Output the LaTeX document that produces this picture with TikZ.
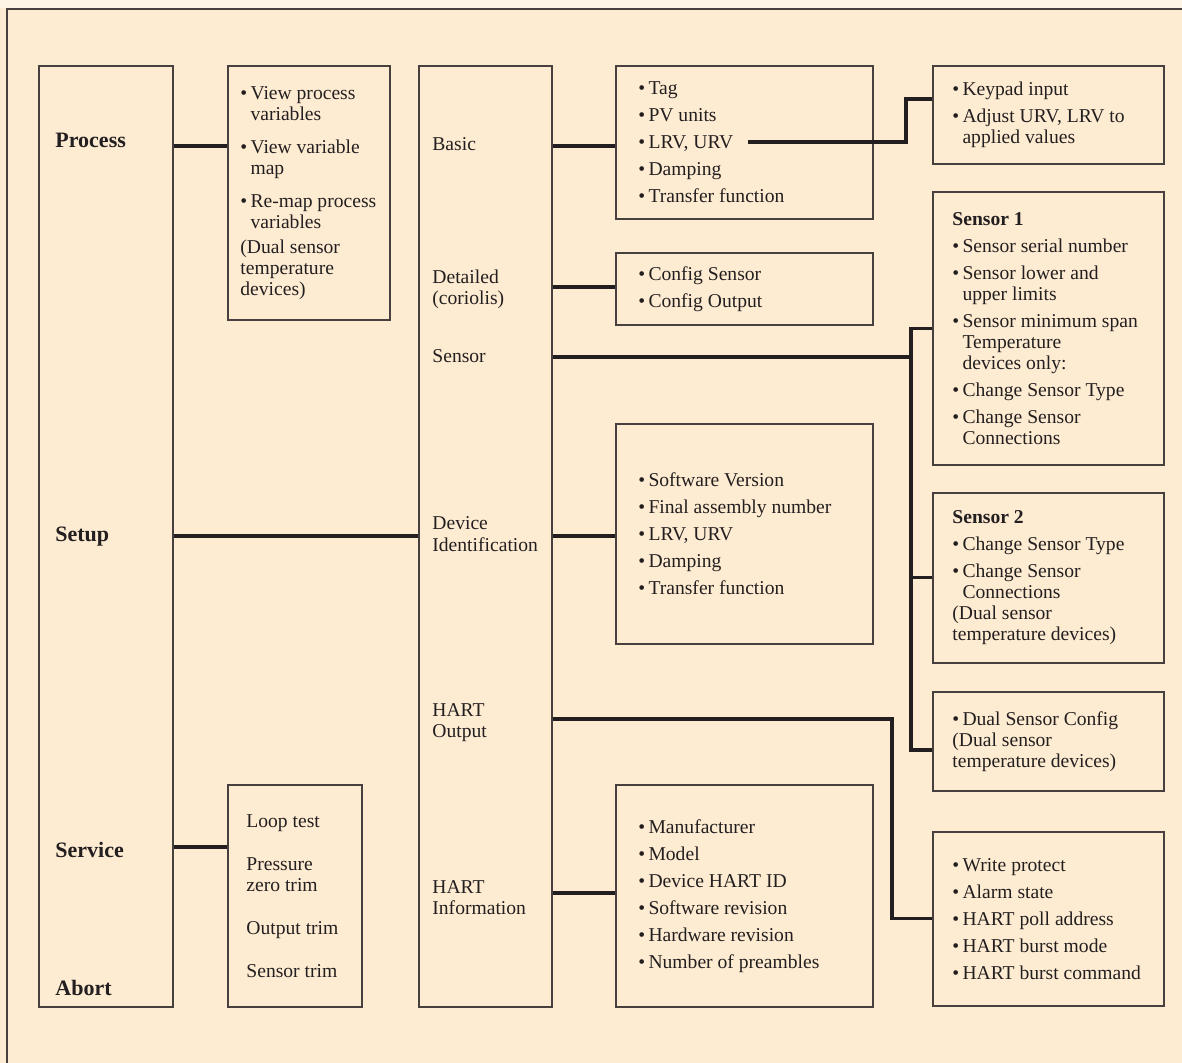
\documentclass[tikz,border=0pt]{standalone}
\usepackage{fontspec}
\setmainfont{Liberation Serif}
\usetikzlibrary{positioning}
\definecolor{paper}{RGB}{254,236,210}
\definecolor{strip}{RGB}{254,244,230}
\definecolor{edge}{RGB}{72,64,62}
\definecolor{ink}{RGB}{35,31,32}
\newcommand{\bul}{\textbullet\,}
\newcommand{\ind}{\phantom{\textbullet\,}}
\tikzset{
  menu/.style 2 args={draw=edge, line width=0.8pt, anchor=north west, inner sep=0pt,
    minimum width=#1*0.5pt, minimum height=#2*0.5pt},
  list/.style={anchor=west, inner sep=0pt, align=left, text=ink, font=\fontsize{9.8}{10.5}\selectfont},
  entry/.style={anchor=base west, inner sep=0pt, align=left, text=ink, font=\fontsize{9.8}{10.5}\selectfont},
  side/.style={anchor=base west, inner sep=0pt, text=ink, font=\fontsize{11}{13}\selectfont\bfseries},
  link/.style={draw=ink, line width=1.6pt}
}
\begin{document}
\begin{tikzpicture}[x=0.5pt, y=-0.5pt]
  \fill[paper] (0,0) rectangle (1182,1063);
  \fill[strip] (0,0) rectangle (1182,8);
  \useasboundingbox (0,0) rectangle (1182,1063);
  \draw[edge, line width=1.2pt] (7,1063) -- (7,9) -- (1182,9);

  % columns
  \node[menu={134}{941}] (main) at (38,65) {};
  \node[menu={133}{941}] (mid) at (418,65) {};
  \foreach \y/\t in {148/Process, 541/Setup, 857/Service, 995/Abort}
    \node[side] (\t) at (55,\y) {\t};
  % base of a two-line label is its last line
  \foreach \y/\n/\t in {151/basic-l/Basic, 305/detl-l/{Detailed\\(coriolis)}, 363/sens-l/Sensor,
      551/devid-l/{Device\\Identification}, 737/hout-l/{HART\\Output}, 914/hinfo-l/{HART\\Information}}
    \node[entry] (\n) at (432,\y) {\t};

  % boxes
  \node[menu={162}{254}] (pv) at (227,65) {};
  \node[menu={134}{222}] (svc) at (227,784) {};
  \node[menu={257}{153}] (basic) at (615,65) {};
  \node[menu={257}{72}] (detl) at (615,252) {};
  \node[menu={257}{220}] (devid) at (615,423) {};
  \node[menu={257}{222}] (hinfo) at (615,784) {};
  \node[menu={231}{98}] (keypad) at (932,65) {};
  \node[menu={231}{273}] (sens1) at (932,191) {};
  \node[menu={231}{170}] (sens2) at (932,492) {};
  \node[menu={231}{99}] (dual) at (932,691) {};
  \node[menu={231}{174}] (hout) at (932,831) {};

  % box texts
  \node[list, right=6.5pt of pv.west] (pv-t) {\bul View process\\ \ind variables\\[6pt]
    \bul View variable\\ \ind map\\[6pt] \bul Re-map process\\ \ind variables\\[2pt]
    (Dual sensor\\ temperature\\ devices)};
  \node[list, right=9.5pt of svc.west] (svc-t) {Loop test\\[11pt] Pressure\\ zero trim\\[11pt]
    Output trim\\[11pt] Sensor trim};
  \node[list, right=11.5pt of basic.west] (basic-t) {\bul Tag\\[3pt] \bul PV units\\[3pt]
    \bul LRV, URV\\[3pt] \bul Damping\\[3pt] \bul Transfer function};
  \node[list, right=11.5pt of detl.west] (detl-t) {\bul Config Sensor\\[3pt] \bul Config Output};
  \node[list, right=11.5pt of devid.west] (devid-t) {\bul Software Version\\[3pt]
    \bul Final assembly number\\[3pt] \bul LRV, URV\\[3pt] \bul Damping\\[3pt] \bul Transfer function};
  \node[list, right=11.5pt of hinfo.west] (hinfo-t) {\bul Manufacturer\\[3pt] \bul Model\\[3pt]
    \bul Device HART ID\\[3pt] \bul Software revision\\[3pt] \bul Hardware revision\\[3pt]
    \bul Number of preambles};
  \node[list, right=10pt of keypad.west] (keypad-t) {\bul Keypad input\\[3pt]
    \bul Adjust URV, LRV to\\ \ind applied values};
  \node[list, right=10pt of sens1.west] (sens1-t) {\textbf{Sensor 1}\\[3pt]
    \bul Sensor serial number\\[3pt] \bul Sensor lower and\\ \ind upper limits\\[3pt]
    \bul Sensor minimum span\\ \ind Temperature\\ \ind devices only:\\[3pt]
    \bul Change Sensor Type\\[3pt] \bul Change Sensor\\ \ind Connections};
  \node[list, right=10pt of sens2.west] (sens2-t) {\textbf{Sensor 2}\\[3pt]
    \bul Change Sensor Type\\[3pt] \bul Change Sensor\\ \ind Connections\\
    (Dual sensor\\ temperature devices)};
  \node[list, right=10pt of dual.west] (dual-t) {\bul Dual Sensor Config\\ (Dual sensor\\
    temperature devices)};
  \node[list, right=10pt of hout.west] (hout-t) {\bul Write protect\\[3pt] \bul Alarm state\\[3pt]
    \bul HART poll address\\[3pt] \bul HART burst mode\\[3pt] \bul HART burst command};

  % connectors
  \foreach \n/\y in {proc/146, setup/536, serv/847, basic/146, detl/287, sens/357, hout/719, hinfo/893}
    \coordinate (y-\n) at (0,\y);
  \draw[link] (y-proc -| main.east) -- (y-proc -| pv.west);
  \draw[link] (y-setup -| main.east) -- (y-setup -| mid.west);
  \draw[link] (y-serv -| main.east) -- (y-serv -| svc.west);
  \draw[link] (y-basic -| mid.east) -- (y-basic -| basic.west);
  \draw[link] (y-detl -| mid.east) -- (y-detl -| detl.west);
  \draw[link] (y-setup -| mid.east) -- (y-setup -| devid.west);
  \draw[link] (y-hinfo -| mid.east) -- (y-hinfo -| hinfo.west);
  \coordinate (lrv) at (748,142);
  \coordinate (kbus) at (906,0);
  \draw[link] (lrv) -- (lrv -| kbus) |- ([yshift=-17pt]keypad.north west);
  \coordinate (sbus) at (911,750);
  \draw[link] (y-sens -| mid.east) -- (y-sens -| sbus);
  \draw[link] (sens1.west) -| (sbus) -- (sbus -| dual.west);
  \draw[link] (sbus |- sens2.west) -- (sens2.west);
  \coordinate (hbus) at (892,0);
  \draw[link] (y-hout -| mid.east) -- (y-hout -| hbus) |- (hout.west);
\end{tikzpicture}
\end{document}
